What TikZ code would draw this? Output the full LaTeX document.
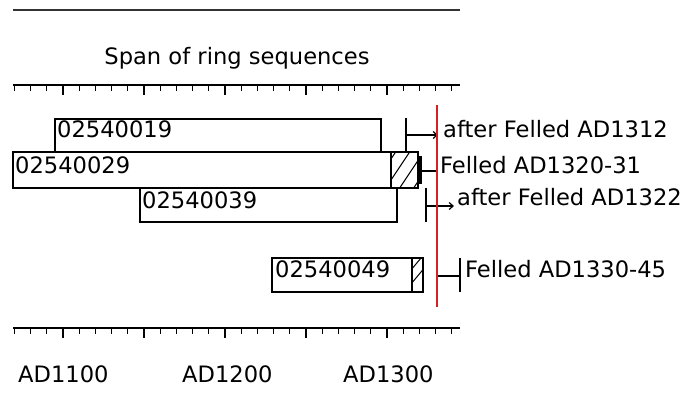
\documentclass[tikz,border=0pt]{standalone}
\usepackage{fontspec}
\setmainfont{DejaVu Sans}
\usetikzlibrary{arrows.meta}
\definecolor{redline}{RGB}{212,32,32}
\begin{document}
\begin{tikzpicture}[x=1pt,y=-1pt,
  txt/.style={anchor=base west,inner sep=0pt,font=\fontsize{22.6}{24}\selectfont},
  bar/.style={draw=black,line width=1.5pt,anchor=north west,inner sep=0pt,outer sep=0pt},
  mk/.style={line width=1.4pt},
  aft/.style={mk,-{Straight Barb[length=4pt,width=7pt,line width=1.2pt]}},
  hatch/.style={line width=1pt},
  scale line/.style={line width=1.4pt},
  tick/.style={line width=1.2pt}]
\useasboundingbox (0,0) rectangle (686,400);
\fill[white] (0,0) rectangle (686,400);
% top rule
\coordinate (topL) at (13,10);
\coordinate (topR) at (460,10);
\draw[line width=2.8pt,black!80] (topL) -- (topR);
\node[anchor=base,inner sep=0pt,font=\fontsize{22.6}{24}\selectfont] (title) at (237,64) {Span of ring sequences};
% scales
\foreach \yy/\nm in {85/ts,328/bs}{
  \coordinate (\nm L) at (13,\yy);
  \coordinate (\nm R) at (460,\yy);
  \draw[scale line] (\nm L) -- (\nm R);
  \foreach \k in {0,...,27}{
    \pgfmathsetmacro\xx{14.4+16.2*\k}
    \pgfmathtruncatemacro\mm{mod(\k,5)}
    \ifnum\mm=3
      \draw[tick] (\xx,\yy) -- ++(0,10);
    \else
      \draw[tick] (\xx,\yy) -- ++(0,6);
    \fi
  }
}
% bars
\node[bar,minimum width=326pt,minimum height=33pt] (b1) at (55,119) {};
\node[bar,minimum width=405pt,minimum height=36pt] (b2) at (13,152) {};
\node[bar,minimum width=257pt,minimum height=34pt] (b3) at (140,188) {};
\node[bar,minimum width=151pt,minimum height=34pt] (b4) at (272,258) {};
% hatching
\begin{scope}
  \clip (391,152) rectangle (418,188);
  \foreach \i in {-36,-22,...,30}{
    \draw[hatch] (391+\i,192) -- ++(30,-45);
  }
\end{scope}
\draw[bar] (391,152) -- (391,188);
\begin{scope}
  \clip (412,258) rectangle (423,292);
  \foreach \i in {-10,4,...,40}{
    \draw[hatch] (406,258+\i) -- ++(20,-24);
  }
\end{scope}
\draw[bar] (412,258) -- (412,292);
% bar labels
\node[txt] (l1) at (57,137) {02540019};
\node[txt] (l2) at (15,173) {02540029};
\node[txt] (l3) at (142,208) {02540039};
\node[txt] (l4) at (275,277) {02540049};
% markers
\coordinate (m1a) at (406,118); \coordinate (m1b) at (406,152);
\coordinate (m1s) at (406,135); \coordinate (m1e) at (438,135);
\draw[mk] (m1a) -- (m1b);
\draw[aft] (m1s) -- (m1e);
\node[txt] (t1) at (443,137) {after Felled AD1312};

\coordinate (m2a) at (420,156); \coordinate (m2b) at (420,184);
\coordinate (m2c) at (437,153); \coordinate (m2d) at (437,188);
\draw[line width=3.5pt] (m2a) -- (m2b);
\draw[mk] (m2a |- 0,171) -- (m2c |- 0,171);
\draw[mk] (m2c) -- (m2d);
\node[txt] (t2) at (440,173) {Felled AD1320-31};

\coordinate (m3a) at (426,188); \coordinate (m3b) at (426,222);
\coordinate (m3s) at (426,206); \coordinate (m3e) at (454,206);
\draw[mk] (m3a) -- (m3b);
\draw[aft] (m3s) -- (m3e);
\node[txt] (t3) at (457,205) {after Felled AD1322};

\coordinate (m4a) at (460,258); \coordinate (m4b) at (460,292);
\coordinate (m4s) at (437,276);
\draw[mk] (m4a) -- (m4b);
\draw[mk] (m4s) -- (m4s -| m4a);
\node[txt] (t4) at (465,277) {Felled AD1330-45};
% red line
\coordinate (rTop) at (437,105);
\coordinate (rBot) at (437,307);
\draw[redline,line width=2pt] (rTop) -- (rBot);
% axis labels
\node[txt] (a1) at (18,382) {AD1100};
\node[txt] (a2) at (182,382) {AD1200};
\node[txt] (a3) at (343,382) {AD1300};
\end{tikzpicture}
\end{document}
